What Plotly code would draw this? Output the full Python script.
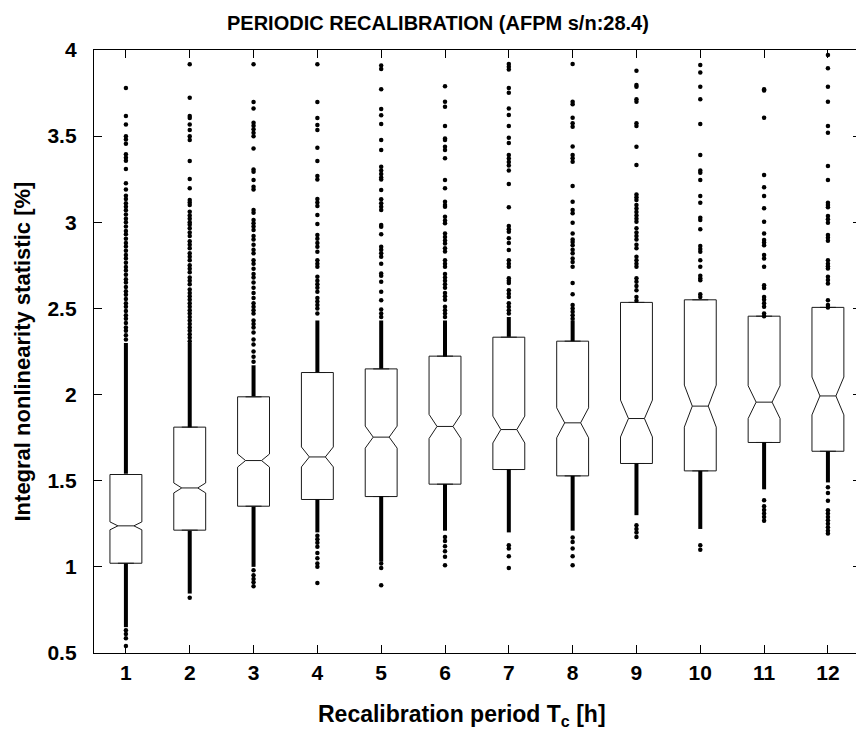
import plotly.graph_objects as go

# ---------------- data ----------------
periods = [1, 2, 3, 4, 5, 6, 7, 8, 9, 10, 11, 12]
tick_labels = ["1", "2", "3", "4", "5", "6", "7", "8", "9", "10", "11", "12"]
y_ticks = [0.5, 1, 1.5, 2, 2.5, 3, 3.5, 4]
y_tick_labels = ["0.5", "1", "1.5", "2", "2.5", "3", "3.5", "4"]

q1 = [1.021, 1.213, 1.352, 1.391, 1.408, 1.480, 1.565, 1.528, 1.600, 1.557, 1.722, 1.671]
median = [1.238, 1.458, 1.617, 1.638, 1.753, 1.815, 1.797, 1.836, 1.861, 1.933, 1.956, 1.992]
q3 = [1.536, 1.811, 1.987, 2.128, 2.149, 2.223, 2.333, 2.310, 2.535, 2.550, 2.455, 2.506]
lower_fence = [1.021, 1.213, 1.352, 1.391, 1.408, 1.480, 1.565, 1.528, 1.600, 1.557, 1.722, 1.680]
upper_fence = [1.536, 1.811, 1.987, 2.128, 2.149, 2.223, 2.333, 2.310, 2.517, 2.550, 2.436, 2.506]
notch_span = [0.023, 0.029, 0.038, 0.058, 0.064, 0.070, 0.078, 0.087, 0.107, 0.122, 0.095, 0.110]

# individual outlier dots per period
out_1 = [3.779, 3.617, 3.568, 3.50, 3.48, 3.456, 3.395, 3.375, 3.357, 3.309, 3.226, 3.191,
         3.154, 3.135, 3.11, 3.09, 3.07, 3.045, 3.02, 3.00, 2.975, 2.95, 2.93, 2.905, 2.88,
         2.86, 2.835, 2.81, 2.79, 2.765, 2.74, 2.72, 2.695, 2.67, 2.65, 2.625, 2.60, 2.58,
         2.555, 2.53, 2.51, 2.485, 2.46, 2.44, 2.415, 2.39, 2.37, 2.345, 2.32,
         0.632, 0.61, 0.585, 0.541]
out_2 = [3.917, 3.723, 3.617, 3.605, 3.568, 3.535, 3.50, 3.477, 3.355, 3.251, 3.197, 3.129,
         3.115, 3.10, 3.061, 3.04, 3.02, 3.00, 2.985, 2.965, 2.94, 2.92, 2.89, 2.87, 2.85,
         2.82, 2.80, 2.78, 2.75, 2.73, 2.71, 2.68, 2.66, 2.64, 2.61, 2.59, 2.57, 2.55,
         2.53, 2.51, 2.49, 2.47, 2.45, 2.43, 2.41, 2.39, 2.37, 2.35, 2.33, 2.31, 0.82]
out_3 = [3.917, 3.698, 3.661, 3.578, 3.56, 3.54, 3.519, 3.50, 3.429, 3.307, 3.293, 3.245,
         3.206, 3.191, 3.071, 3.055, 3.013, 2.995, 2.975, 2.955, 2.92, 2.90, 2.87, 2.84,
         2.82, 2.78, 2.76, 2.73, 2.70, 2.68, 2.65, 2.62, 2.59, 2.56, 2.53, 2.51, 2.49, 2.47,
         2.43, 2.41, 2.39, 2.36, 2.32, 2.29, 2.25, 2.22, 2.19,
         0.98, 0.951, 0.93, 0.91, 0.887]
out_4 = [3.917, 3.698, 3.605, 3.564, 3.535, 3.433, 3.355, 3.268, 3.249, 3.135, 3.115, 3.094,
         3.042, 2.990, 2.926, 2.905, 2.88, 2.858, 2.829, 2.78, 2.76, 2.742, 2.684, 2.66, 2.64,
         2.62, 2.597, 2.56, 2.54, 2.52, 2.50, 2.47,
         1.18, 1.16, 1.14, 1.116, 1.08, 1.05, 1.02, 1.0, 0.907]
out_5 = [3.91, 3.89, 3.772, 3.657, 3.621, 3.570, 3.477, 3.419, 3.322, 3.30, 3.28, 3.26, 3.249,
         3.187, 3.133, 3.11, 3.09, 3.071, 2.984, 2.974, 2.931, 2.858, 2.84, 2.82, 2.80, 2.76,
         2.703, 2.69, 2.655, 2.597, 2.548, 2.494, 2.47, 2.45,
         1.019, 0.994, 0.893]
out_6 = [3.79, 3.70, 3.671, 3.559, 3.487, 3.477, 3.438, 3.419, 3.371, 3.245, 3.197, 3.119,
         3.10, 3.09, 3.032, 3.01, 2.994, 2.935, 2.915, 2.895, 2.877, 2.85, 2.83, 2.78, 2.76,
         2.742, 2.70, 2.68, 2.66, 2.64, 2.62, 2.59, 2.57, 2.55, 2.51, 2.49, 2.47, 2.45,
         1.174, 1.15, 1.12, 1.09, 1.058, 1.009]
out_7 = [3.919, 3.903, 3.887, 3.78, 3.752, 3.661, 3.622, 3.559, 3.49, 3.46, 3.39, 3.37, 3.35,
         3.33, 3.30, 3.222, 3.087, 2.978, 2.96, 2.945, 2.908, 2.88, 2.839, 2.78, 2.76, 2.742,
         2.675, 2.66, 2.647, 2.606, 2.585, 2.567, 2.53, 2.51, 2.49, 2.47,
         1.125, 1.106, 1.062, 0.994]
out_8 = [3.919, 3.70, 3.685, 3.607, 3.575, 3.555, 3.44, 3.39, 3.371, 3.351, 3.21, 3.119, 3.071,
         3.053, 2.997, 2.935, 2.90, 2.885, 2.867, 2.84, 2.82, 2.79, 2.77, 2.742, 2.647, 2.583,
         2.52, 2.50, 2.48, 2.46, 2.44,
         1.170, 1.145, 1.106, 1.062, 1.009]
out_9 = [3.88, 3.797, 3.787, 3.714, 3.70, 3.575, 3.559, 3.438, 3.332, 3.162, 3.145, 3.129,
         3.10, 3.08, 3.06, 3.04, 3.02, 3.003, 2.966, 2.94, 2.92, 2.90, 2.87, 2.85, 2.80, 2.78,
         2.76, 2.742, 2.675, 2.655, 2.63, 2.606, 2.567, 2.545,
         1.242, 1.22, 1.20, 1.174]
out_10 = [3.913, 3.870, 3.787, 3.714, 3.570, 3.39, 3.30, 3.287, 3.245, 3.152, 3.113, 3.026,
          3.013, 2.96, 2.862, 2.845, 2.829, 2.78, 2.742, 2.69, 2.675, 2.664, 2.583, 2.567,
          1.125, 1.10]
out_11 = [3.772, 3.765, 3.607, 3.274, 3.203, 3.152, 3.081, 3.003, 2.935, 2.897, 2.882, 2.867,
          2.81, 2.79, 2.742, 2.635, 2.618, 2.567, 2.55, 2.53, 2.51, 2.47, 2.455,
          1.387, 1.352, 1.33, 1.31, 1.29, 1.267]
out_12 = [3.971, 3.894, 3.787, 3.70, 3.559, 3.520, 3.326, 3.245, 3.113, 3.10, 3.087, 3.036,
          3.017, 2.997, 2.926, 2.91, 2.893, 2.78, 2.76, 2.745, 2.732, 2.684, 2.665, 2.645,
          2.548, 2.52, 2.506,
          1.462, 1.429, 1.383, 1.329, 1.31, 1.29, 1.27, 1.25, 1.23, 1.21, 1.193]
outliers = [out_1, out_2, out_3, out_4, out_5, out_6, out_7, out_8, out_9, out_10, out_11, out_12]

# ranges where outlier dots are packed into a solid column (low, high)
dense_1 = [(0.65, 1.02), (1.54, 2.30)]
dense_2 = [(0.845, 1.21), (1.81, 2.30)]
dense_3 = [(1.00, 1.35), (1.99, 2.17)]
dense_4 = [(1.20, 1.39), (2.13, 2.43)]
dense_5 = [(1.03, 1.41), (2.15, 2.43)]
dense_6 = [(1.21, 1.48), (2.22, 2.43)]
dense_7 = [(1.20, 1.565), (2.335, 2.45)]
dense_8 = [(1.21, 1.528), (2.31, 2.43)]
dense_9 = [(1.30, 1.60)]
dense_10 = [(1.22, 1.557)]
dense_11 = [(1.45, 1.722)]
dense_12 = [(1.49, 1.671)]
dense = [dense_1, dense_2, dense_3, dense_4, dense_5, dense_6, dense_7, dense_8,
         dense_9, dense_10, dense_11, dense_12]

FONT = "Liberation Sans, Arial, Helvetica, sans-serif"

fig = go.Figure()

fig.add_trace(go.Box(
    x=periods, q1=q1, median=median, q3=q3,
    lowerfence=lower_fence, upperfence=upper_fence,
    notchspan=notch_span, notched=True, notchwidth=0.25,
    width=0.5, whiskerwidth=0.5, boxpoints=False,
    fillcolor="white", line=dict(color="#1a1a1a", width=1),
    showlegend=False, hoverinfo="skip",
))

# dense columns of outliers
lx, ly = [], []
for p, segs in zip(periods, dense):
    for lo, hi in segs:
        lx += [p, p, None]
        ly += [lo, hi, None]
fig.add_trace(go.Scatter(x=lx, y=ly, mode="lines",
                         line=dict(color="black", width=4),
                         showlegend=False, hoverinfo="skip"))

# individual outlier dots
dx, dy = [], []
for p, vals in zip(periods, outliers):
    dx += [p] * len(vals)
    dy += vals
fig.add_trace(go.Scatter(x=dx, y=dy, mode="markers",
                         marker=dict(color="black", size=4.5, line=dict(width=0)),
                         showlegend=False, hoverinfo="skip"))

# invisible trace for the right-hand tick axis
fig.add_trace(go.Scatter(x=[periods[0]], y=[y_ticks[0]], yaxis="y2", mode="markers",
                         marker=dict(opacity=0), showlegend=False, hoverinfo="skip"))

tick_font = dict(family=FONT, size=21, color="black", weight="bold")

fig.update_layout(
    width=856, height=733,
    margin=dict(l=94, r=0, t=50, b=80),
    paper_bgcolor="white", plot_bgcolor="white",
    xaxis=dict(range=[0.5, 12.44], tickvals=periods, ticktext=tick_labels,
               ticks="inside", ticklen=8, tickwidth=1, tickcolor="black",
               showline=True, linecolor="black", linewidth=1.3, mirror="ticks",
               showgrid=False, zeroline=False, tickfont=tick_font,
               ticklabelstandoff=1),
    yaxis=dict(range=[0.5, 4], tickvals=y_ticks, ticktext=y_tick_labels,
               ticks="inside", ticklen=8, tickwidth=1, tickcolor="black",
               showline=True, linecolor="black", linewidth=1.3,
               showgrid=False, zeroline=False, tickfont=tick_font,
               ticklabelstandoff=12),
    yaxis2=dict(range=[0.5, 4], tickvals=y_ticks, overlaying="y", side="right",
                ticks="inside", ticklen=3, tickwidth=1, tickcolor="black",
                showticklabels=False, showline=False, showgrid=False, zeroline=False),
    annotations=[
        dict(text="<b>PERIODIC RECALIBRATION (AFPM s/n:28.4)</b>", xref="paper", yref="paper",
             x=0.452, y=1.0, yshift=27, xanchor="center", yanchor="middle", showarrow=False,
             font=dict(family=FONT, size=20, color="black")),
        dict(text="<b>Recalibration period T<sub>c</sub> [h]</b>", xref="paper", yref="paper",
             x=0.483, y=0, yshift=-62, xanchor="center", yanchor="middle", showarrow=False,
             font=dict(family=FONT, size=23, color="black")),
        dict(text="<b>Integral nonlinearity statistic [%]</b>", xref="paper", yref="paper",
             x=0, xshift=-72, y=0.5, xanchor="center", yanchor="middle", showarrow=False,
             textangle=-90, font=dict(family=FONT, size=22, color="black")),
    ],
)

fig.write_html("out.html")
